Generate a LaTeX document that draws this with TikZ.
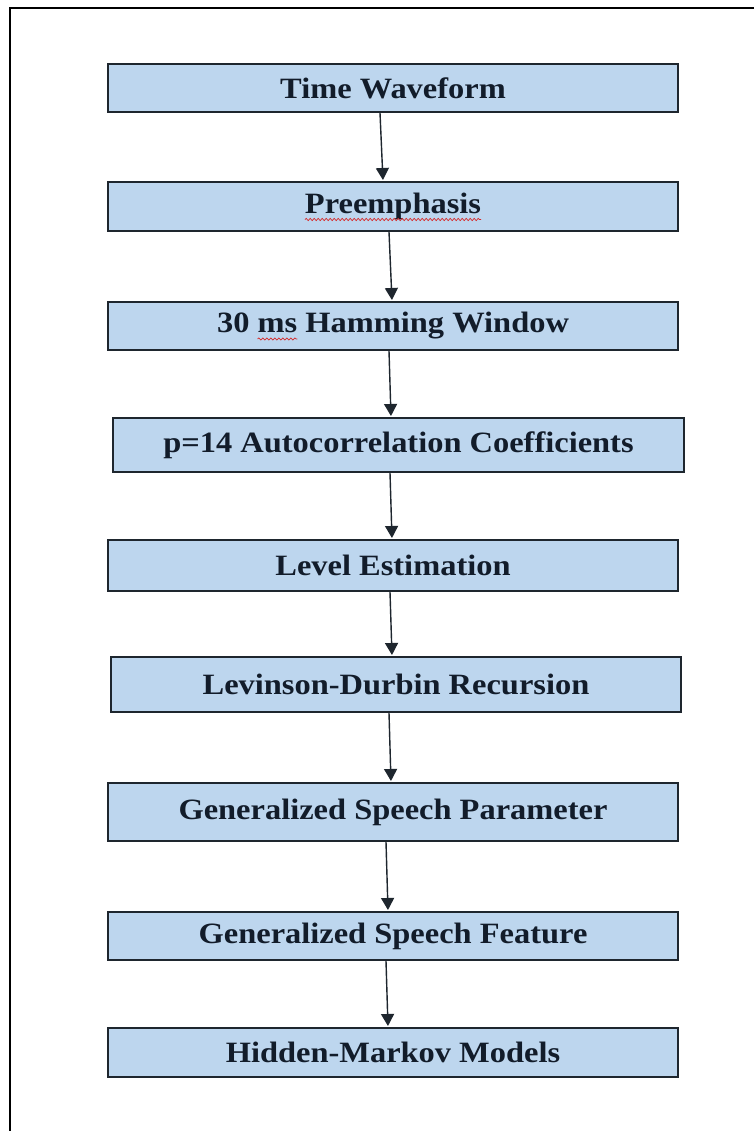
\documentclass[tikz,border=0pt]{standalone}
\usepackage{fontspec}
\setmainfont[FakeStretch=1.1]{Liberation Serif}
\usetikzlibrary{arrows.meta,decorations.pathmorphing}

\definecolor{boxfill}{RGB}{189,214,238}
\definecolor{boxline}{RGB}{30,38,46}
\definecolor{boxtext}{RGB}{18,28,42}
\definecolor{spellred}{RGB}{214,40,40}

\newcommand{\boxfont}{\fontsize{29.5}{30}\selectfont\bfseries}

% widths used to place the spell-check marks
\newlength{\wPre}
\newlength{\wHamAll}
\newlength{\wHamLead}
\newlength{\wHamMs}

\tikzset{
  stepbox/.style={draw=boxline, line width=2pt, fill=boxfill,
    minimum width=570pt, inner sep=0pt, text=boxtext, font=\boxfont},
  arr/.style={draw=boxline, line width=1.4pt,
    -{Triangle[width=13pt,length=12pt]}, shorten >=1pt},
  frame/.style={line width=2.6pt, draw=black},
  squig/.style={draw=spellred, line width=0.7pt,
    decorate, decoration={snake, amplitude=1.1pt, segment length=4pt}}
}

\begin{document}
\settowidth{\wPre}{\boxfont Preemphasis}
\settowidth{\wHamAll}{\boxfont 30 ms Hamming Window}
\settowidth{\wHamLead}{\boxfont 30 }
\settowidth{\wHamMs}{\boxfont ms}
\begin{tikzpicture}[x=1pt,y=-1pt]
  \useasboundingbox (0,0) rectangle (754,1131);
  \fill[white] (0,0) rectangle (754,1131);

  % outer frame: top and left edges
  \draw[frame] (754,8) -- (10,8) -- (10,1131);

  % processing stages
  \node[stepbox, minimum height=48pt] (b1) at (393,88)    {Time Waveform};
  \node[stepbox, minimum height=49pt] (b2) at (393,206.5) {Preemphasis};
  \node[stepbox, minimum height=48pt] (b3) at (393,326)   {30 ms Hamming Window};
  \node[stepbox, minimum height=54pt, minimum width=571pt] (b4) at (398.5,445) {p=14 Autocorrelation Coefficients};
  \node[stepbox, minimum height=51pt] (b5) at (393,565.5) {Level Estimation};
  \node[stepbox, minimum height=55pt] (b6) at (396,684.5) {Levinson-Durbin Recursion};
  \node[stepbox, minimum height=58pt] (b7) at (393,812)   {Generalized Speech Parameter};
  \node[stepbox, minimum height=48pt] (b8) at (393,936)   {Generalized Speech Feature};
  \node[stepbox, minimum height=49pt] (b9) at (393,1052.5) {Hidden-Markov Models};

  % spell-check marks under "Preemphasis" and "ms"
  \draw[squig] ([xshift=-0.5\wPre, yshift=-13pt]b2.center) -- ++(\wPre,0);
  \draw[squig] ([xshift=-0.5\wHamAll+\wHamLead, yshift=-13pt]b3.center) -- ++(\wHamMs,0);

  % connectors
  \draw[arr] ([xshift=-13pt]b1.south) -- ([xshift=-10pt]b2.north);
  \draw[arr] ([xshift=-4pt]b2.south)  -- ([xshift=-1pt]b3.north);
  \draw[arr] ([xshift=-4pt]b3.south)  -- ([xshift=-7.5pt]b4.north);
  \draw[arr] ([xshift=-8.5pt]b4.south) -- ([xshift=-1pt]b5.north);
  \draw[arr] ([xshift=-3pt]b5.south)  -- ([xshift=-4pt]b6.north);
  \draw[arr] ([xshift=-7pt]b6.south)  -- ([xshift=-2pt]b7.north);
  \draw[arr] ([xshift=-7pt]b7.south)  -- ([xshift=-5pt]b8.north);
  \draw[arr] ([xshift=-7pt]b8.south)  -- ([xshift=-5pt]b9.north);
\end{tikzpicture}
\end{document}
